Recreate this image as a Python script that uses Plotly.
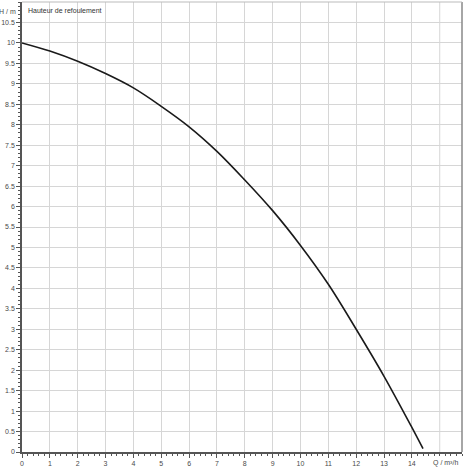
import plotly.graph_objects as go

# pump curve
q = [0, 1, 2, 3, 4, 5, 6, 7, 8, 9, 10, 11, 12, 13, 14, 14.4]
h = [10.0, 9.8, 9.55, 9.25, 8.9, 8.45, 7.95, 7.35, 6.65, 5.9, 5.05, 4.1, 3.0, 1.85, 0.6, 0.08]

x_ticks = list(range(0, 15))
y_ticks = [i * 0.5 for i in range(0, 22)]

FONT = "Liberation Sans, Arial, sans-serif"
TXT = '#4a4a4a'

fig = go.Figure()
fig.add_trace(go.Scatter(x=q, y=h, mode='lines', line=dict(color='#1a1a1a', width=1.6, shape='spline'),
                         hoverinfo='skip'))

axis_common = dict(
    showgrid=True, gridcolor='#d6d6d6', gridwidth=1,
    showline=True, linecolor='#555555', linewidth=1.5, mirror=False,
    ticks='outside', ticklen=4, tickcolor='#555555',
    tickfont=dict(size=7, color=TXT, family=FONT),
    zeroline=False, automargin=False,
)

fig.update_xaxes(range=[0, 15.8], tickvals=x_ticks,
                 minor=dict(dtick=0.2, ticklen=2, tickcolor='#555555', showgrid=False, ticks='outside'),
                 **axis_common)
fig.update_yaxes(range=[0, 11], tickvals=y_ticks,
                 ticktext=[('%g' % v) for v in y_ticks],
                 minor=dict(dtick=0.1, ticklen=2, tickcolor='#555555', showgrid=False, ticks='outside'),
                 **axis_common)

# extra vertical grid at 15 and frame on right/top
fig.add_shape(type='line', xref='x', yref='paper', x0=15, x1=15, y0=0, y1=1,
              line=dict(color='#d6d6d6', width=1), layer='below')
fig.add_shape(type='line', xref='paper', yref='paper', x0=1, x1=1, y0=0, y1=1,
              line=dict(color='#888888', width=1.5))
fig.add_shape(type='line', xref='paper', yref='paper', x0=0, x1=1, y0=1, y1=1,
              line=dict(color='#bbbbbb', width=1))

fig.add_annotation(text='H / m', xref='paper', yref='paper', x=0, y=1, xshift=-4, yshift=-4,
                   xanchor='right', yanchor='top', showarrow=False,
                   font=dict(size=7, color=TXT, family=FONT))
fig.add_annotation(text='Hauteur de refoulement', xref='paper', yref='paper', x=0, y=1, xshift=4, yshift=-3,
                   xanchor='left', yanchor='top', showarrow=False,
                   font=dict(size=7, color='#333333', family=FONT))
fig.add_annotation(text='Q / m³/h', xref='paper', yref='paper', x=1, y=0, xshift=-2, yshift=-5,
                   xanchor='right', yanchor='top', showarrow=False,
                   font=dict(size=7, color=TXT, family=FONT))

fig.update_layout(
    width=470, height=470,
    margin=dict(l=22, r=8, t=2, b=18),
    plot_bgcolor='white', paper_bgcolor='white',
    showlegend=False,
)

# the page body has a default 8px margin; drop it so the figure fills the window
fig.write_html("out.html", config={'displayModeBar': False},
               post_script="document.body.style.margin='0';document.body.style.overflow='hidden';")
